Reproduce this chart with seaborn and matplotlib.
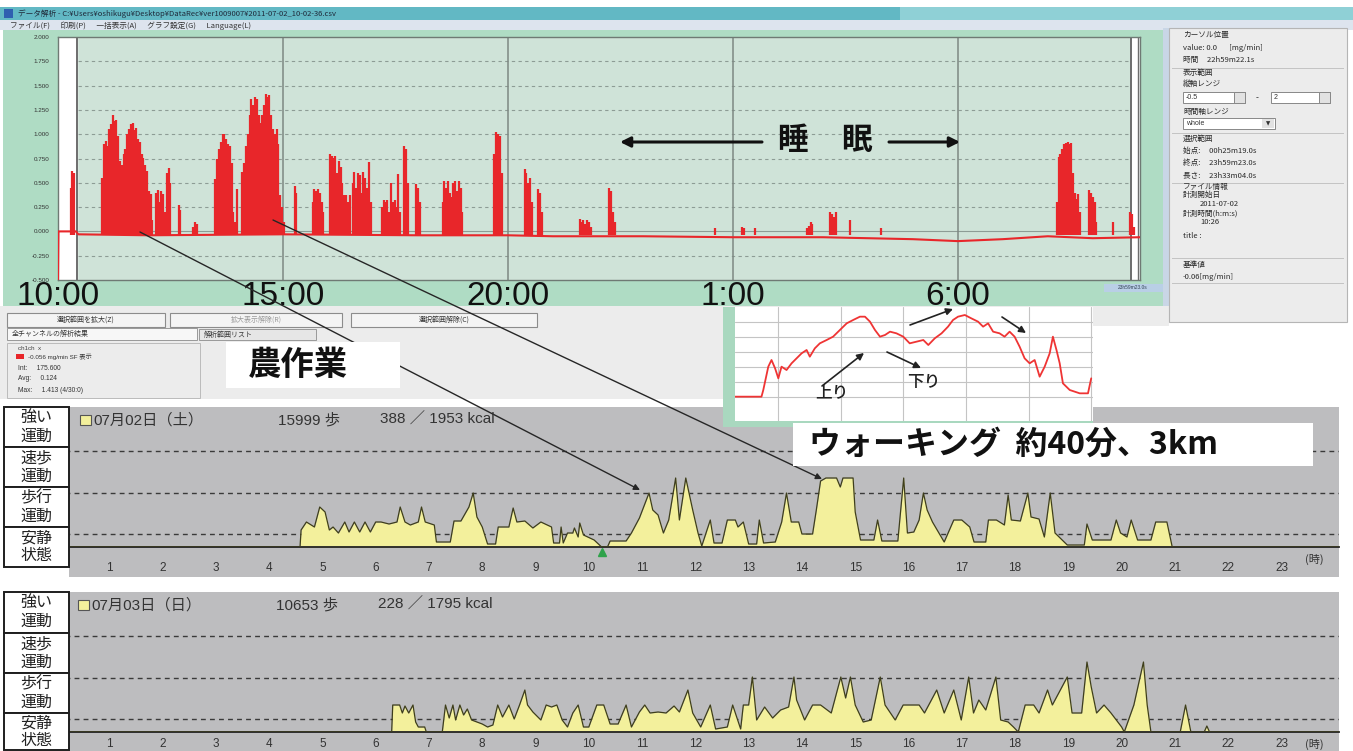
import numpy as np
import matplotlib
matplotlib.use('Agg')
import matplotlib.pyplot as plt
import seaborn as sns
import pandas as pd
from matplotlib.patches import Rectangle, FancyArrowPatch

# ---- 上段: 加速度センサ (mg/min)  10:00 ~ 翌10:00 ----
top_ticks = [10, 15, 20, 25, 30]
top_ticklabels = ['10:00', '15:00', '20:00', '1:00', '6:00']
top_ylevels = [-0.5, -0.25, 0.0, 0.25, 0.5, 0.75, 1.0, 1.25, 1.5, 1.75, 2.0]
top_ylabels = ['-0.500', '-0.250', '0.000', '0.250', '0.500', '0.750',
               '1.000', '1.250', '1.500', '1.750', '2.000']

# ベースライン (時刻, 値)
base_t = [10.0, 10.01, 10.4, 10.45, 12.0, 15.0, 18.0, 20.0, 21.0, 23.0,
          25.0, 27.0, 28.0, 29.0, 30.0, 31.0, 32.0, 33.0, 34.05]
base_v = [-0.5, 0.0, 0.0, -0.03, -0.04, -0.03, -0.04, -0.04, -0.05, -0.05,
          -0.06, -0.06, -0.07, -0.08, -0.1, -0.08, -0.05, -0.07, -0.06]

# 活動のかたまり: 開始時刻と 0.04h ごとの値
burst_dt = 0.04
burst_start = [10.28, 10.98, 12.18, 12.68, 13.0, 13.5, 13.98, 14.1, 15.26, 15.66,
               16.04, 16.55, 17.2, 17.7, 17.96, 18.55, 19.7, 20.37, 20.67, 21.6,
               22.25, 24.6, 25.2, 25.5, 26.65, 27.17, 27.6, 28.3, 32.2, 32.92,
               33.46, 33.83]
burst_vals = [
    [0.45, 0.62, 0.6],
    [0.55, 0.9, 0.93, 0.88, 1.05, 1.1, 1.2, 1.14, 1.15, 0.98, 0.72, 0.68, 0.8, 0.85, 1.0,
     1.05, 1.1, 1.12, 1.04, 1.06, 0.95, 0.92, 0.8, 0.76, 0.68, 0.62, 0.42, 0.38, 0.12],
    [0.4, 0.43, 0.3, 0.42, 0.38, 0.2, 0.6, 0.65, 0.5],
    [0.27, 0.22],
    [0.05, 0.1, 0.08],
    [0.54, 0.75, 0.85, 0.92, 1.0, 1.0, 0.95, 0.9, 0.88, 0.7, 0.2, 0.1],
    [0.44],
    [0.61, 0.7, 0.88, 1.0, 1.2, 1.36, 1.3, 1.38, 1.36, 1.2, 1.12, 1.2, 1.3, 1.41, 1.38,
     1.4, 1.2, 1.05, 1.0, 1.05, 0.9, 0.37, 0.25, 0.1],
    [0.47, 0.4],
    [0.3, 0.44, 0.42, 0.44, 0.4, 0.3, 0.2],
    [0.8, 0.78, 0.76, 0.78, 0.6, 0.72, 0.66, 0.5, 0.37, 0.37, 0.3, 0.37],
    [0.5, 0.61, 0.45, 0.6, 0.58, 0.4, 0.61, 0.55, 0.45, 0.71, 0.3],
    [0.25, 0.32, 0.3, 0.32, 0.2, 0.5, 0.3, 0.32, 0.25, 0.59, 0.2],
    [0.88, 0.85, 0.5],
    [0.49, 0.45, 0.3],
    [0.3, 0.52, 0.45, 0.52, 0.4, 0.35, 0.5, 0.52, 0.42, 0.52, 0.45, 0.2],
    [0.8, 1.02, 1.0, 0.98, 0.6],
    [0.64, 0.6, 0.5, 0.55, 0.3],
    [0.44, 0.4, 0.2],
    [0.13, 0.1, 0.12, 0.08, 0.12, 0.1, 0.05],
    [0.45, 0.42, 0.2, 0.1],
    [0.03],
    [0.05, 0.03],
    [0.04],
    [0.04, 0.06, 0.1, 0.08],
    [0.2, 0.18, 0.15, 0.2],
    [0.12],
    [0.04],
    [0.3, 0.77, 0.8, 0.85, 0.9, 0.91, 0.92, 0.9, 0.91, 0.6, 0.4, 0.33, 0.38, 0.2],
    [0.43, 0.4, 0.35, 0.3, 0.1],
    [0.1],
    [0.2, 0.18, 0.05],
]

# ---- 挿入図: ウォーキング中の高度変化 ----
inset_min = [0, 7.4, 7.9, 9.3, 10.2, 11.2, 12.1, 13.0, 14.4, 15.8, 17.2, 18.6, 20.0,
             20.9, 22.3, 23.7, 25.6, 27.4, 29.3, 31.2, 33.0, 34.9, 36.3, 37.7, 39.1,
             40.5, 41.9, 43.3, 45.1, 47.0, 48.8, 50.7, 52.6, 54.0, 55.8, 57.7, 59.5,
             60.9, 62.3, 64.2, 66.0, 67.9, 69.3, 70.7, 72.1, 73.9, 75.3, 76.7, 78.1,
             79.5, 80.9, 82.3, 83.7, 85.1, 86.5, 87.9, 88.8, 89.8, 90.7, 91.6, 93.5,
             96.3, 98.6, 99.5]
inset_alt = [10, 10, 30, 100, 120, 95, 65, 100, 90, 110, 125, 140, 150,
             130, 155, 170, 180, 190, 210, 230, 240, 250, 250, 235, 210,
             190, 195, 205, 200, 190, 170, 175, 180, 165, 185, 200, 220,
             240, 250, 255, 245, 235, 220, 230, 205, 200, 190, 205, 190,
             160, 125, 110, 120, 70, 100, 140, 190, 150, 110, 50, 30,
             20, 20, 65]

# ---- 下段: 活動量計 ----
act_labels = ['強い\n運動', '速歩\n運動', '歩行\n運動', '安静\n状態']
act_levels = [1.3, 5.4, 9.6]
hours = list(range(1, 24))

act1_t = [0.0, 4.58, 4.6, 4.7, 4.85, 4.95, 5.05, 5.13, 5.2, 5.3,
          5.42, 5.5, 5.6, 5.7, 5.8, 5.9, 6.0, 6.1, 6.25, 6.4,
          6.46, 6.55, 6.65, 6.8, 6.86, 6.93, 7.1, 7.14, 7.4, 7.47,
          7.6, 7.75, 7.83, 7.9, 8.0, 8.1, 8.25, 8.3, 8.5, 8.58,
          8.65, 8.8, 8.95, 9.1, 9.3, 9.34, 9.45, 9.48, 9.52, 9.6,
          9.7, 9.73, 9.8, 9.83, 9.9, 10.1, 10.24, 10.35, 10.4, 10.7,
          10.8, 10.95, 11.13, 11.2, 11.3, 11.4, 11.5, 11.63, 11.7, 11.82,
          11.88, 11.95, 12.05, 12.12, 12.28, 12.35, 12.5, 12.6, 12.75, 12.8,
          12.9, 13.0, 13.15, 13.2, 13.28, 13.5, 13.62, 13.71, 13.8, 13.94,
          14.0, 14.2, 14.27, 14.35, 14.45, 14.65, 14.72, 14.77, 14.96, 15.0,
          15.1, 15.35, 15.42, 15.5, 15.8, 15.91, 15.98, 16.1, 16.2, 16.28,
          16.35, 16.45, 16.67, 16.85, 17.0, 17.15, 17.23, 17.45, 17.5, 17.65,
          17.8, 17.87, 17.93, 18.1, 18.24, 18.3, 18.45, 18.55, 18.66, 18.75,
          18.98, 19.3, 19.35, 19.45, 19.8, 19.9, 19.98, 20.1, 20.18, 20.3,
          20.55, 20.64, 20.85, 20.95, 24.1]
act1_v = [0, 0, 1.7, 2.5, 2.0, 4.0, 3.5, 1.7, 2.0, 1.4,
          2.5, 1.5, 2.5, 1.5, 2.5, 1.5, 2.5, 2.5, 2.3, 2.5,
          4.0, 2.5, 2.2, 2.5, 4.0, 2.5, 2.2, 0.5, 0.5, 2.6,
          2.6, 4.0, 5.4, 3.0, 2.0, 0.3, 0.3, 2.0, 2.0, 3.9,
          2.5, 2.6, 1.9, 2.5, 2.0, 0.4, 0.4, 2.0, 0.4, 1.4,
          1.4, 1.9, 1.0, 2.4, 1.2, 0.7, 0.0, 0.0, 0.6, 0.6,
          1.4, 2.9, 5.4, 3.7, 3.2, 1.4, 2.7, 6.9, 2.7, 6.9,
          5.4, 3.7, 1.4, 0.1, 2.7, 0.4, 0.4, 2.7, 2.7, 2.0,
          2.5, 0.3, 0.3, 2.7, 0.4, 0.5, 2.5, 5.4, 2.5, 2.5,
          1.3, 1.3, 3.7, 6.6, 6.9, 6.9, 6.0, 6.9, 6.9, 3.5,
          0.7, 0.7, 2.7, 0.6, 0.6, 6.9, 1.4, 1.5, 2.7, 5.4,
          3.7, 2.5, 0.5, 2.7, 2.7, 2.0, 0.5, 0.5, 2.7, 2.7,
          2.2, 5.2, 2.7, 2.6, 5.4, 3.0, 2.8, 1.0, 5.4, 1.4,
          0.2, 0.2, 2.3, 0.7, 0.7, 2.7, 1.4, 1.0, 2.7, 0.7,
          0.7, 2.5, 2.5, 0.0, 0]

act2_t = [0.0, 6.3, 6.32, 6.45, 6.5, 6.55, 6.62, 6.7, 6.75, 6.8,
          6.92, 6.95, 7.25, 7.31, 7.38, 7.45, 7.5, 7.58, 7.65, 7.72,
          7.8, 7.9, 8.0, 8.1, 8.2, 8.29, 8.38, 8.5, 8.6, 8.7,
          8.8, 8.85, 8.95, 9.1, 9.2, 9.3, 9.4, 9.5, 9.6, 9.7,
          9.8, 9.9, 10.0, 10.15, 10.28, 10.4, 10.55, 10.7, 10.8, 10.95,
          11.05, 11.15, 11.3, 11.45, 11.6, 11.7, 11.86, 11.95, 12.1, 12.28,
          12.38, 12.6, 12.7, 12.85, 12.9, 13.0, 13.07, 13.15, 13.3, 13.45,
          13.6, 13.75, 13.85, 13.9, 14.05, 14.2, 14.35, 14.55, 14.73, 14.82,
          14.91, 15.0, 15.15, 15.3, 15.47, 15.56, 15.75, 15.9, 16.2, 16.3,
          16.53, 16.67, 16.85, 16.99, 17.13, 17.22, 17.32, 17.45, 17.64, 17.73,
          17.87, 17.97, 18.06, 18.19, 18.35, 18.45, 18.61, 18.7, 18.98, 19.07,
          19.25, 19.35, 19.43, 19.53, 19.67, 19.8, 20.0, 20.05, 20.23, 20.41,
          20.48, 20.55, 21.1, 21.2, 21.3, 21.55, 21.6, 21.65, 24.1]
act2_v = [0, 0, 2.7, 2.7, 1.9, 2.6, 1.9, 2.7, 1.0, 0.5,
          0.5, 0.0, 0.0, 2.7, 1.4, 2.7, 1.2, 2.7, 1.7, 2.3,
          1.2, 1.0, 0.8, 0.5, 0.7, 2.7, 1.5, 2.7, 1.3, 2.7,
          4.2, 2.7, 2.0, 1.2, 2.7, 2.5, 2.7, 1.2, 0.5, 1.9,
          2.7, 0.5, 0.5, 2.7, 2.7, 0.8, 0.8, 2.7, 0.5, 2.0,
          2.7, 1.9, 2.0, 1.9, 2.6, 2.0, 4.2, 1.9, 0.5, 2.7,
          0.3, 0.5, 2.7, 0.3, 2.7, 2.7, 5.5, 1.2, 2.5, 1.4,
          2.2, 2.5, 5.5, 3.2, 1.2, 2.7, 2.7, 1.9, 5.5, 3.4,
          5.5, 2.7, 1.0, 1.2, 5.5, 2.7, 1.2, 2.7, 2.7, 1.9,
          4.2, 1.9, 4.2, 1.2, 5.5, 1.9, 3.2, 2.2, 5.5, 1.2,
          1.0, 0.5, 0.0, 2.7, 2.7, 1.9, 4.2, 2.7, 5.5, 1.9,
          1.9, 7.0, 4.5, 1.9, 2.7, 1.9, 0.5, 0.0, 2.7, 7.0,
          2.7, 0.0, 0.0, 2.7, 0.0, 0.0, 0.6, 0.0, 0]

# ---------------------------------------------------------------
sns.set_theme(style='white')
plt.rcParams['font.family'] = ['Noto Sans CJK JP', 'DejaVu Sans']
LAT = ['Liberation Sans', 'Noto Sans CJK JP', 'DejaVu Sans']

W, H = 1353, 751
fig = plt.figure(figsize=(W / 100, H / 100), dpi=100)
fig.patch.set_facecolor('white')


def fbox(x0, y0, x1, y1):
    return [x0 / W, 1 - y1 / H, (x1 - x0) / W, (y1 - y0) / H]


def rect(x0, y0, x1, y1, fc, ec='none', lw=0, z=-1):
    fig.add_artist(Rectangle((x0 / W, 1 - y1 / H), (x1 - x0) / W, (y1 - y0) / H,
                             transform=fig.transFigure, facecolor=fc, edgecolor=ec,
                             linewidth=lw, zorder=z))


def ftext(x, y, s, z=6, **kw):
    kw.setdefault('va', 'center')
    fig.text(x / W, 1 - y / H, s, zorder=z, **kw)


def farrow(p0, p1, lw=1.0, ms=10, color='#262626', z=4):
    fig.add_artist(FancyArrowPatch((p0[0] / W, 1 - p0[1] / H), (p1[0] / W, 1 - p1[1] / H),
                                   transform=fig.transFigure, arrowstyle='-|>',
                                   mutation_scale=ms, lw=lw, color=color, zorder=z,
                                   shrinkA=0, shrinkB=0))


# ---- ウィンドウ枠 ----
rect(0, 7, W, 20, '#62b8c4')
rect(900, 7, W, 20, '#8fd0d6')
rect(4, 9, 13, 18, '#2f5fb0')
ftext(18, 13.5, 'データ解析 - C:¥Users¥oshikugu¥Desktop¥DataRec¥ver1009007¥2011-07-02_10-02-36.csv',
      fontsize=5.5, color='#1f2a3a')
rect(0, 20, W, 30, '#dde4ee')
ftext(10, 25.5, 'ファイル(F)      印刷(P)      一括表示(A)      グラフ設定(G)      Language(L)',
      fontsize=5.5, color='#333')
rect(3, 30, 1165, 306, '#afdcc4')
rect(1163, 28, 1169, 325, '#c9d6e6')

# ---- 上段グラフ ----
ax = fig.add_axes(fbox(58, 37, 1140, 280))
ax.set_facecolor('#cfe3d8')
ax.set_xlim(10, 34.05)
ax.set_ylim(-0.5, 2.0)
for lv in top_ylevels[1:-1]:
    ax.axhline(lv, color='#8d9c95', lw=0.8, ls=(0, (3, 3)) if lv != 0 else '-', zorder=1)
for h in top_ticks[1:]:
    ax.axvline(h, color='#7d8882', lw=1.1, zorder=1)
ax.axvspan(10, 10.42, color='white', zorder=1)
ax.axvspan(33.85, 34.05, color='white', zorder=1)
ax.axvline(10.42, color='#6d6d6d', lw=1.4, zorder=1.5)
ax.axvline(33.85, color='#6d6d6d', lw=1.4, zorder=1.5)
ax.axvline(34.0, color='#6d6d6d', lw=1.0, zorder=1.5)

red = '#e8262a'
for st, vals in zip(burst_start, burst_vals):
    tt = st + burst_dt * np.arange(len(vals))
    ax.vlines(tt, -0.04, vals, color=red, lw=1.6, zorder=2)
sns.lineplot(x=base_t, y=base_v, ax=ax, color=red, linewidth=1.5,
             estimator=None, sort=False, zorder=3)
ax.set_xticks(top_ticks)
ax.set_xticklabels(top_ticklabels, fontsize=24, family=LAT, color='#111')
ax.set_yticks(top_ylevels)
ax.set_yticklabels(top_ylabels, fontsize=4.5, color='#333', family=LAT)
ax.tick_params(axis='x', length=0, pad=1)
ax.tick_params(axis='y', length=0, pad=6)
ax.set_xlabel('')
ax.set_ylabel('')
for s in ax.spines.values():
    s.set_color('#6f7a74')
    s.set_linewidth(1.0)
rect(1104, 284, 1163, 292, '#b9cfe6', z=2)
ftext(1133, 288, '23h59m23.0s', fontsize=3.5, color='#345', ha='center', family=LAT)

# 睡眠
farrow((762, 142), (620, 142), lw=2.2, ms=15, color='#111', z=4)
farrow((889, 142), (960, 142), lw=2.2, ms=15, color='#111', z=4)
ftext(792, 140, '睡', fontsize=22, weight='bold', ha='center', color='#111')
ftext(856, 140, '眠', fontsize=22, weight='bold', ha='center', color='#111')

# ---- ツールバー・解析結果パネル ----
rect(0, 306, 723, 399, '#ececec')
rect(723, 306, 1169, 326, '#ececec')
rect(1169, 322, W, 399, 'white')
for x0, x1, lab, col in [(7, 165, '選択範囲を拡大(Z)', '#333'), (170, 342, '拡大表示解除(R)', '#999'),
                         (351, 537, '選択範囲解除(C)', '#333')]:
    rect(x0, 313, x1, 327, '#f4f4f4', ec='#8c8c8c', lw=0.8, z=0.5)
    ftext((x0 + x1) / 2, 320, lab, fontsize=5, color=col, ha='center')
rect(7, 328, 197, 340, '#f7f7f7', ec='#999', lw=0.7, z=0.5)
ftext(12, 334, '全チャンネルの解析結果', fontsize=5, color='#333')
rect(199, 329, 316, 340, '#e6e6e6', ec='#999', lw=0.7, z=0.5)
ftext(204, 334.5, '解析範囲リスト', fontsize=5, color='#333')
rect(7, 343, 200, 398, '#ececec', ec='#bbb', lw=0.7, z=0.5)
ftext(18, 348, 'ch1ch  x', fontsize=4.5, color='#444', family=LAT)
rect(16, 354, 24, 359, red, z=1)
ftext(28, 357, '-0.056 mg/min SF 表示', fontsize=4.5, color='#333', family=LAT)
ftext(18, 368, 'Int:     175.600', fontsize=4.8, color='#333', family=LAT)
ftext(18, 379, 'Avg:     0.124', fontsize=4.8, color='#333', family=LAT)
ftext(18, 390, 'Max:     1.413 (4/30:0)', fontsize=4.8, color='#333', family=LAT)

# ---- 右側パネル ----
rect(1169, 28, 1347, 322, '#ececec', ec='#b5b5b5', lw=0.8, z=0)
for yy in [68, 133, 183, 258, 283]:
    rect(1172, yy, 1344, yy + 1, '#c4c4c4', z=0.5)
ptxt = [(1183, 35, 'カーソル位置'), (1183, 48, 'value: 0.0       [mg/min]'),
        (1183, 60, '時間     22h59m22.1s'), (1183, 73, '表示範囲'), (1183, 84, '縦軸レンジ'),
        (1183, 112, '時間軸レンジ'), (1183, 139, '選択範囲'),
        (1183, 151, '始点:     00h25m19.0s'), (1183, 163, '終点:     23h59m23.0s'),
        (1183, 175, '長さ:     23h33m04.0s'), (1183, 187, 'ファイル情報'),
        (1183, 195, '計測開始日'), (1200, 204, '2011-07-02'),
        (1183, 214, '計測時間(h:m:s)'), (1200, 222, '10:26'), (1183, 236, 'title :'),
        (1183, 265, '基準値'), (1183, 277, '-0.06[mg/min]')]
for x, y, s in ptxt:
    ftext(x, y, s, fontsize=5.5, color='#2a2a2a')
for x0, x1, s in [(1183, 1245, '-0.5'), (1271, 1330, '2')]:
    rect(x0, 92, x1, 103, 'white', ec='#888', lw=0.7, z=0.5)
    rect(x1 - 11, 92, x1, 103, '#e2e2e2', ec='#888', lw=0.7, z=0.6)
    ftext(x0 + 3, 97.5, s, fontsize=5, color='#333', family=LAT)
ftext(1256, 97.5, '-', fontsize=6, color='#333')
rect(1183, 118, 1275, 129, 'white', ec='#888', lw=0.7, z=0.5)
rect(1262, 119, 1274, 128, '#e2e2e2', z=0.6)
ftext(1186, 123.5, 'whole', fontsize=5, color='#333', family=LAT)
ftext(1268, 123.5, '▼', fontsize=4, color='#333', ha='center', family=['DejaVu Sans'])

# 農作業
rect(226, 342, 400, 388, 'white', z=5)
ftext(298, 366, '農作業', fontsize=24, weight='bold', ha='center', color='#111')

# ---- 下段: 活動量グラフ ----
act_fill = '#f3f09c'
act_line = '#3e3e1c'


def activity_panel(y_top, t, v, lab_boxes, tick_pad):
    a = fig.add_axes(fbox(56, y_top, 1339, y_top + 140))
    a.set_facecolor('#bdbdbf')
    a.set_xlim(0, 24.08)
    a.set_ylim(0, 14)
    for lv in act_levels:
        a.axhline(lv, color='#3a3a3a', lw=1.0, ls=(0, (3.5, 3)), zorder=1)
    df = pd.DataFrame({'t': t, 'v': v})
    a.fill_between(df['t'], 0, df['v'], color=act_fill, lw=0, zorder=2)
    sns.lineplot(data=df, x='t', y='v', ax=a, color=act_line, linewidth=0.9,
                 estimator=None, sort=False, zorder=3)
    a.set_xticks(hours)
    a.set_xticklabels([str(h) for h in hours], fontsize=8.5, color='#333', family=LAT)
    a.tick_params(axis='x', direction='in', length=3, width=1, color='#222', pad=tick_pad)
    a.set_yticks([])
    a.set_xlabel('')
    a.set_ylabel('')
    for k, s in a.spines.items():
        s.set_visible(k == 'bottom')
    a.spines['bottom'].set_color('#222')
    a.spines['bottom'].set_linewidth(1.3)
    a.text(23.62, -1.2, '(時)', fontsize=8, color='#333', ha='center', va='center', clip_on=False)
    rect(69, y_top + 140, 1339, y_top + 170, '#bdbdbf', z=-1)
    for lab, (ya, yb) in zip(act_labels, lab_boxes):
        rect(4, ya, 69, yb, 'white', ec='#1e1e1e', lw=1.4, z=5)
        ftext(36.5, (ya + yb) / 2, lab, fontsize=11.5, ha='center', color='#222',
              linespacing=1.05)
    return a


ax1 = activity_panel(407, act1_t, act1_v, [(407, 447), (447, 487), (487, 527), (527, 567)], 11)
ax1.plot([10.24], [-0.45], marker='^', color='#2fa24a', ms=6, clip_on=False, zorder=5)
ax2 = activity_panel(592, act2_t, act2_v, [(592, 633), (633, 673), (673, 713), (713, 750)], 4)

for (sx, sy, day, steps, kcal) in [(80, 420, '07月02日（土）', '15999 歩', '388 ／ 1953 kcal'),
                                   (78, 605, '07月03日（日）', '10653 歩', '228 ／ 1795 kcal')]:
    rect(sx, sy - 5, sx + 11, sy + 5, act_fill, ec='#555', lw=0.8, z=6)
    ftext(sx + 13, sy, day, fontsize=11, color='#333', family=LAT)
    ftext(sx + 198, sy, steps, fontsize=11, color='#333', family=LAT)
    ftext(sx + 300, sy, kcal, fontsize=11, color='#333', family=LAT)

# ---- 挿入図 ----
axi = fig.add_axes(fbox(735, 307, 1093, 421))
axi.set_zorder(3)
axi.set_facecolor('white')
axi.set_xlim(0, 100)
axi.set_ylim(-63, 279)
axi.set_xticks([12, 29.5, 47, 64.5, 82, 99.5])
axi.set_yticks([9, 54, 99, 144, 189, 234])
axi.grid(True, color='#c4c4c4', lw=0.8)
axi.tick_params(length=0, labelbottom=False, labelleft=False)
for s in axi.spines.values():
    s.set_visible(False)
sns.lineplot(x=inset_min, y=inset_alt, ax=axi, color='#ef3434', linewidth=1.3,
             estimator=None, sort=False)
axi.set_xlabel('')
axi.set_ylabel('')
rect(723, 307, 735, 427, '#a9d8bf', z=3.5)
rect(723, 421, 1093, 427, '#a9d8bf', z=3.5)
farrow((822, 386), (864, 353), lw=1.2, ms=10, color='#222', z=4)
farrow((887, 352), (921, 368), lw=1.2, ms=10, color='#222', z=4)
farrow((910, 325), (953, 309), lw=1.2, ms=10, color='#222', z=4)
farrow((1002, 317), (1026, 333), lw=1.2, ms=10, color='#222', z=4)
ftext(832, 392, '上り', fontsize=12, ha='center', color='#222', weight='medium')
ftext(924, 382, '下り', fontsize=12, ha='center', color='#222', weight='medium')

# ウォーキング
rect(793, 423, 1313, 466, 'white', z=5)
ftext(809, 445, 'ウォーキング  約40分、3km', fontsize=23, weight='bold', color='#111')

# 注釈線
farrow((140, 232), (640, 490), lw=1.0, ms=9, color='#262626', z=4)
farrow((273, 220), (822, 479), lw=1.0, ms=9, color='#262626', z=4)

fig.savefig('out.png', dpi=100)
